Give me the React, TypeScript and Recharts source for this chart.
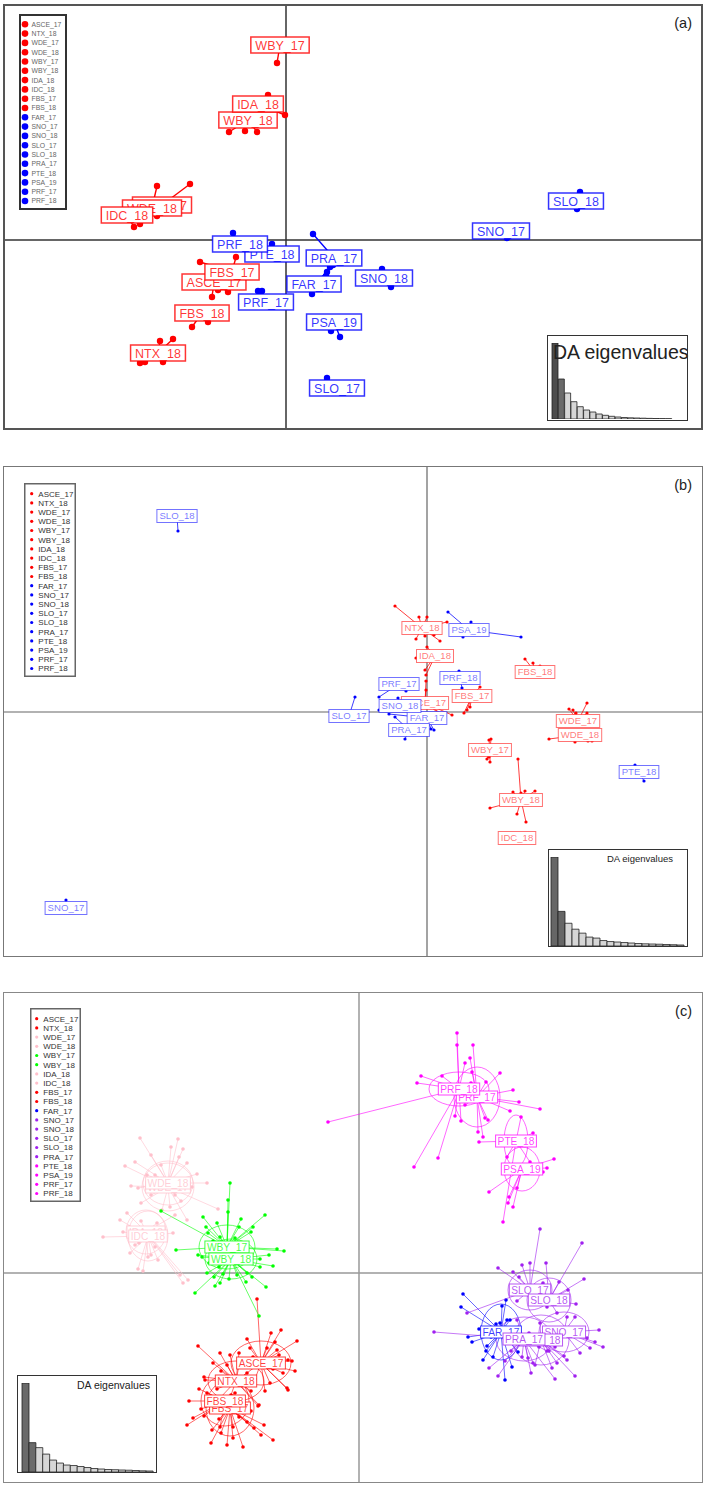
import React, { useLayoutEffect, useRef, useState } from 'react'
import { ScatterChart, Scatter, XAxis, YAxis, ReferenceLine, BarChart, Bar, Cell } from 'recharts'

const FONT = '"Liberation Sans", Arial, sans-serif'

const GROUPS = ['ASCE_17', 'NTX_18', 'WDE_17', 'WDE_18', 'WBY_17', 'WBY_18', 'IDA_18', 'IDC_18', 'FBS_17', 'FBS_18',
  'FAR_17', 'SNO_17', 'SNO_18', 'SLO_17', 'SLO_18', 'PRA_17', 'PTE_18', 'PSA_19', 'PRF_17', 'PRF_18']

const RED = '#ff0000', BLUE = '#0000ff', PINK = '#ffc0cb', GREEN = '#00ff00', PURPLE = '#a020f0', MAGENTA = '#ff00ff'

const COLORS_AB = [RED, RED, RED, RED, RED, RED, RED, RED, RED, RED, BLUE, BLUE, BLUE, BLUE, BLUE, BLUE, BLUE, BLUE, BLUE, BLUE]
const COLORS_C = [RED, RED, PINK, PINK, GREEN, GREEN, PINK, PINK, RED, RED, BLUE, PURPLE, PURPLE, PURPLE, PURPLE, PURPLE, MAGENTA, MAGENTA, MAGENTA, MAGENTA]

// ---- panel (a): group centroids (label position) and individual coordinates, LD1 / LD2
const A_CENTROIDS = [
  [-3.6, -2.1], [-6.4, -5.65], [-6.2, 1.75], [-6.7, 1.6], [-0.3, 9.75], [-1.9, 6.0], [-1.4, 6.8], [-7.95, 1.25], [-2.7, -1.6], [-4.2, -3.65],
  [1.4, -2.2], [10.75, 0.45], [4.9, -1.9], [2.55, -7.4], [14.5, 1.95], [2.4, -0.9], [-0.7, -0.7], [2.4, -4.1], [-1.0, -3.1], [-2.3, -0.2],
]
const A_POINTS = [
  [[-3.7, -2.85], [-2.9, -2.6], [-3.4, -2.5]],
  [[-6.3, -5.05], [-5.65, -4.95], [-7.3, -6.15], [-7.05, -6.1], [-6.15, -6.1]],
  [[-4.8, 2.8], [-5.4, 1.9]],
  [[-6.45, 2.7], [-6.45, 1.2]],
  [[-0.45, 8.85]],
  [[-2.85, 5.4], [-2.05, 5.45], [-1.45, 5.4]],
  [[-0.9, 7.25], [-0.05, 6.25]],
  [[-7.6, 0.65], [-7.3, 0.8]],
  [[-4.3, -1.1], [-2.5, -0.85]],
  [[-4.7, -4.35], [-4.05, -3.6], [-3.9, -4.1]],
  [[2.05, -1.6], [1.3, -2.7], [2.0, -1.8]],
  [[11.05, 0.1]],
  [[5.25, -2.35], [4.8, -1.45]],
  [[2.05, -6.9]],
  [[14.7, 2.4], [14.55, 1.55]],
  [[1.35, 0.3], [2.2, -1.35], [2.35, -1.25]],
  [[-0.7, -0.2]],
  [[2.7, -4.85], [2.25, -4.55]],
  [[-1.4, -2.55], [-1.2, -2.55]],
  [[-2.65, 0.35]],
]
const A_EIGEN = [76, 40, 26, 17.3, 12.3, 9, 7, 5, 3.7, 2.7, 2, 1.5, 1.2, 1, 0.8, 0.6, 0.5, 0.4, 0.3]

// ---- panel (b)
const B_CENTROIDS = [
  [-0.1, 0.45], [-0.25, 4.2], [7.55, -0.45], [7.65, -1.15], [3.15, -1.9], [4.7, -4.4], [0.4, 2.8], [4.5, -6.3], [2.25, 0.8], [5.4, 2.0],
  [0, -0.3], [-18.05, -9.8], [-1.35, 0.3], [-3.9, -0.2], [-12.5, 9.8], [-0.9, -0.9], [10.6, -3.0], [2.1, 4.1], [-1.4, 1.4], [1.65, 1.7],
]
const B_POINTS = [
  [[1.25, -0.15], [0.65, -0.1], [-0.05, 1.1], [-0.05, 1.55], [0, 0.6], [0.9, -0.2]],
  [[-1.6, 5.3], [-0.4, 4.75], [0, 4.75], [-0.55, 3.65], [0.65, 3.55], [-0.1, 3.8], [0.35, 3.85], [1.0, 4.5]],
  [[7.1, 0.15], [7.45, -0.05], [8.0, -0.05], [8.0, 0.45], [7.3, 0.1]],
  [[6.1, -1.35], [8.05, -1.45], [8.25, -1.45], [7.4, -1.5]],
  [[3.1, -1.4], [3.2, -1.35], [3.1, -2.25], [3.15, -2.5], [3.0, -2.35]],
  [[4.55, -2.35], [4.3, -4.0], [5.4, -3.95], [3.15, -4.8], [4.5, -5.1], [4.95, -5.5], [4.7, -4.05], [4.9, -3.95]],
  [[0, 3.25], [-0.55, 2.7], [-0.1, 2.1], [0.25, 2.85], [-0.05, 1.85]],
  [[4.5, -6.3]],
  [[2.65, 1.25], [1.85, -0.05], [2.0, 0.1], [2.15, 0.25]],
  [[4.9, 2.65], [5.3, 2.45], [5.65, 2.3]],
  [[-1.9, -0.1], [0.2, -0.85], [0.35, -0.9]],
  [[-18.05, -9.4]],
  [[-1.45, 0.7], [-2.4, 0.1]],
  [[-3.6, 0.75]],
  [[-12.45, 9.05]],
  [[-1.6, -0.25], [-1.1, -1.35]],
  [[10.85, -3.45], [10.4, -2.65]],
  [[1.05, 5.0], [2.2, 4.5], [1.8, 3.75], [4.7, 3.75]],
  [[-2.4, 0.75], [-1.05, 1.05]],
  [[1.6, 2.05], [1.75, 1.2]],
]
const B_EIGEN = [90, 35, 23, 17, 13, 9, 8, 5.5, 4.5, 4, 3.5, 3, 2.5, 2.2, 2, 1.8, 1.5, 1.3, 1]

// ---- panel (c)
const C_CENTROIDS = [
  [-4.9, -4.5], [-6.15, -5.4], [-9.55, 4.3], [-9.55, 4.5], [-6.6, 1.3], [-6.4, 0.7], [-10.65, 2.05], [-10.55, 1.85], [-6.45, -6.75], [-6.7, -6.4],
  [7.1, -2.95], [10.25, -2.95], [9.1, -3.35], [8.55, -0.85], [9.5, -1.35], [8.25, -3.3], [7.85, 6.6], [8.15, 5.2], [5.9, 8.8], [5.0, 9.2],
]
const C_ELLIPSES = [
  [1.5, 1.1], [1.4, 1.0], [1.3, 1.2], [1.25, 1.1], [1.4, 1.1], [1.3, 1.0], [1.0, 1.1], [1.0, 1.25], [1.2, 1.4], [1.2, 1.25],
  [1.0, 1.4], [1.25, 1.0], [1.4, 1.25], [1.1, 1.0], [1.1, 1.1], [1.4, 1.1], [0.6, 1.3], [0.9, 1.1], [1.15, 1.5], [1.5, 0.85],
]
const C_POINTS = [
  [[-5.1, -1.3], [-3.9, -2.85], [-3.1, -3.4], [-4.2, -3.45], [-3.55, -4.35], [-3.35, -4.4], [-4.6, -3.75], [-4.1, -3.85], [-5.45, -3.75], [-3.6, -5.75], [-3.55, -5.85], [-4.45, -5.5], [-4.0, -4.1], [-5.3, -4.2],
    [-5.6, -3.3], [-4.4, -3.0], [-3.8, -5.0], [-5.2, -5.3], [-4.7, -5.9], [-3.2, -4.9], [-5.8, -4.6], [-4.3, -4.8]],
  [[-8.05, -3.65], [-7.75, -5.2], [-6.95, -4.0], [-6.45, -4.1], [-5.95, -4.35], [-7.7, -5.35], [-5.05, -6.65], [-5.0, -6.6], [-6.6, -4.6], [-5.6, -5.0], [-7.1, -5.8],
    [-6.9, -4.9], [-5.4, -5.9], [-6.4, -6.1], [-7.3, -4.5], [-5.2, -4.7], [-6.0, -4.0], [-7.0, -6.3]],
  [[-11.7, 5.35], [-11.4, 4.35], [-10.9, 3.5], [-9.45, 3.3], [-9.85, 3.15], [-7.05, 3.2], [-8.6, 2.65], [-10.2, 4.9], [-10.4, 3.9], [-8.9, 3.6], [-9.9, 4.1]],
  [[-10.95, 6.75], [-9.05, 6.7], [-8.8, 6.2], [-9.4, 6.3], [-8.6, 5.5], [-8.1, 4.95], [-7.6, 4.5], [-8.35, 4.3], [-11.2, 5.55], [-11.05, 4.25], [-9.9, 5.4],
    [-10.4, 5.9], [-9.0, 5.8], [-10.6, 4.9], [-9.2, 3.9]],
  [[-6.45, 4.5], [-6.55, 3.65], [-6.55, 3.05], [-4.7, 2.9], [-9.9, 3.1], [-7.8, 2.8], [-5.9, 2.7], [-5.3, 2.3], [-5.4, 2.05], [-7.65, 2.3], [-7.55, 2.0], [-6.95, 1.8], [-6.2, 1.75], [-9.15, 1.15], [-3.75, 1.1], [-4.1, 1.2],
    [-7.1, 2.5], [-6.0, 2.3], [-7.3, 1.6], [-5.8, 1.4]],
  [[-8.05, 0.9], [-7.85, 0.8], [-4.5, 0.9], [-4.95, 0.7], [-4.3, 0.35], [-4.95, 0.3], [-7.6, 0.0], [-7.25, -0.2], [-6.8, -0.05], [-6.1, -0.1], [-5.6, 0.0], [-5.35, -0.2], [-7.2, -0.65], [-6.95, -0.5], [-8.2, -1.0], [-4.65, -0.7], [-5.65, -0.45], [-5.0, -2.15],
    [-7.0, 0.3], [-5.9, 0.5], [-6.5, -0.3], [-7.5, 0.5]],
  [[-8.8, -0.5], [-8.55, -0.35], [-8.95, -0.1], [-10.55, 0.8], [-9.2, 2.9], [-11.6, 3.0], [-10.1, 2.5], [-11.0, 1.5], [-9.7, 1.7]],
  [[-12.8, 1.8], [-11.95, 2.65], [-11.8, 2.05], [-9.3, 2.0], [-11.05, 0.2], [-10.8, 0.1], [-10.05, 0.65], [-11.45, 1.0], [-11.2, 1.4], [-10.2, 1.3], [-10.9, 2.6], [-11.5, 2.3], [-10.4, 0.9]],
  [[-7.35, -7.85], [-7.4, -8.5], [-6.3, -8.25], [-4.3, -8.35], [-4.75, -7.6], [-5.25, -7.75], [-6.3, -7.7], [-5.6, -7.45], [-6.9, -8.0],
    [-5.8, -8.7], [-6.0, -7.2], [-7.0, -7.3], [-5.4, -6.9], [-6.6, -8.6], [-4.9, -8.1]],
  [[-8.5, -6.4], [-7.75, -7.15], [-8.3, -7.25], [-7.3, -6.95], [-6.95, -7.7], [-7.6, -6.0], [-8.0, -5.8], [-7.2, -6.6], [-6.2, -6.0], [-7.9, -6.8], [-8.6, -7.6]],
  [[5.2, -1.05], [5.1, -1.7], [7.35, -1.35], [7.15, -1.65], [7.05, -2.5], [6.85, -2.55], [7.4, -2.35], [5.45, -3.2], [5.65, -3.45], [6.35, -3.9], [6.4, -3.65], [6.7, -4.2], [6.2, -4.35], [7.65, -4.7], [7.3, -5.35], [7.55, -2.35], [7.95, -3.95],
    [6.0, -2.8], [6.6, -3.2]],
  [[12.0, -2.85], [12.2, -3.7], [11.8, -3.45], [11.4, -3.25], [11.55, -3.75], [10.8, -2.2], [10.4, -2.2], [11.05, -4.0], [10.9, -3.1], [9.8, -3.7]],
  [[10.8, -5.15], [9.65, -4.75], [10.25, -4.15], [10.4, -4.35], [9.7, -2.85], [9.05, -2.5], [8.8, -4.6], [9.5, -3.9], [8.5, -3.0], [9.9, -4.5]],
  [[9.05, 2.2], [6.95, 0.25], [7.7, 0.05], [8.55, 0.5], [8.15, 0.4], [5.4, -2.0], [8.9, -1.25], [8.0, -0.2], [9.2, -0.5], [7.9, -1.4]],
  [[11.15, 1.5], [9.35, 0.5], [10.0, -0.45], [10.45, -0.85], [11.25, -0.3], [9.4, -1.7], [10.85, -1.55], [9.9, -2.0], [9.0, -0.9], [10.2, -1.2]],
  [[3.75, -2.95], [8.7, -4.5], [8.45, -4.25], [8.15, -4.2], [6.95, -5.15], [6.5, -4.75], [7.9, -2.35], [9.4, -3.9], [7.6, -3.9], [9.0, -3.7], [7.3, -4.4], [8.6, -5.0], [9.8, -5.3]],
  [[6.0, 6.55], [8.7, 7.0], [7.4, 5.8], [8.55, 5.55], [7.2, 2.55], [8.1, 7.8]],
  [[9.75, 5.7], [9.4, 5.25], [6.5, 4.05], [7.5, 3.8], [7.9, 4.25], [7.7, 3.3], [7.45, 3.5], [9.2, 5.05]],
  [[5.7, 11.4], [5.55, 10.75], [5.65, 10.05], [7.05, 10.0], [6.35, 9.55], [7.7, 9.15], [8.0, 8.55], [5.95, 7.05], [6.2, 6.8], [6.3, 7.75], [6.45, 7.65], [9.05, 8.2], [7.55, 8.1], [6.6, 8.9], [5.3, 8.4]],
  [[4.9, 12.0], [4.9, 11.4], [3.1, 9.85], [2.9, 9.5], [4.15, 9.85], [-1.55, 7.55], [4.8, 7.85], [5.1, 7.6], [3.95, 5.75], [2.75, 5.3], [5.3, 10.5], [4.2, 9.0], [5.6, 9.5]],
]
const C_EIGEN = [89.5, 29.5, 24.5, 18, 12, 9, 7, 6.5, 5.5, 4.5, 3.5, 3, 2.5, 2.3, 2, 1.8, 1.5, 1.2, 1]

// ---- look of the three panels
const PANELS = [
  {
    tag: '(a)', box: [3, 4, 700, 426], xDomain: [-14.15, 20.85], yDomain: [-9.5, 11.8],
    centroids: A_CENTROIDS, points: A_POINTS, colors: COLORS_AB, ellipses: null,
    st: { r: 3.2, lineW: 1.4, lineOp: 1, fs: 12.5, pad: 4.5, h: 16, boxW: 1.5, labOp: 0.8, axis: '#333', axisW: 1.5, border: '#555', borderW: 2 },
    legend: { x: 19, y: 14, w: 48, h: 196, dotX: 6, textX: 12.5, y0: 10.3, dy: 9.3, r: 3.3, fs: 6.8, color: '#666', stroke: '#333', sw: 2, colors: COLORS_AB },
    eigen: { x: 547, y: 335, w: 141, h: 86, values: A_EIGEN, margin: { top: 8, right: 16, bottom: 2, left: 5 }, dark: ['#4d4d4d', '#6a6a6a'], title: { left: 6, top: 7.5, fs: 19.5 } },
  },
  {
    tag: '(b)', box: [3, 466, 700, 491], xDomain: [-21.2, 13.8], yDomain: [-12.25, 12.3],
    centroids: B_CENTROIDS, points: B_POINTS, colors: COLORS_AB, ellipses: null,
    st: { r: 1.6, lineW: 0.9, lineOp: 0.85, fs: 9.6, pad: 2.5, h: 13, boxW: 1, labOp: 0.55, axis: '#666', axisW: 1.2, border: '#777', borderW: 1.5 },
    legend: { x: 24, y: 483, w: 52, h: 194, dotX: 7.7, textX: 14.3, y0: 10.7, dy: 9.2, r: 1.6, fs: 8, color: '#333', stroke: '#666', sw: 1.5, colors: COLORS_AB },
    eigen: { x: 548, y: 849, w: 140, h: 98, values: B_EIGEN, margin: { top: 8, right: 4, bottom: 1, left: 3 }, dark: ['#666', '#666'], title: { left: 59, top: 5, fs: 9.5 } },
  },
  {
    tag: '(c)', box: [3, 992, 700, 491], xDomain: [-17.8, 17.2], yDomain: [-10.5, 14.05],
    centroids: C_CENTROIDS, points: C_POINTS, colors: COLORS_C, ellipses: C_ELLIPSES,
    st: { r: 1.8, lineW: 0.8, lineOp: 0.75, fs: 10.2, pad: 2, h: 12, boxW: 1, labOp: 0.75, axis: '#999', axisW: 1.5, border: '#888', borderW: 1.5 },
    legend: { x: 30, y: 1008, w: 51, h: 194, dotX: 6.7, textX: 13.3, y0: 10.7, dy: 9.2, r: 1.6, fs: 8, color: '#333', stroke: '#666', sw: 1.5, colors: COLORS_C },
    eigen: { x: 17, y: 1375, w: 140, h: 98, values: C_EIGEN, margin: { top: 8, right: 4, bottom: 1, left: 5 }, dark: ['#6a6a6a', '#6a6a6a'], title: { left: 60, top: 5, fs: 10.5 } },
  },
]

function LabelBox({ cx, cy, text, color, st }: any) {
  const ref = useRef<SVGTextElement>(null)
  const [w, setW] = useState(text.length * st.fs * 0.62)
  useLayoutEffect(() => {
    if (ref.current) setW(ref.current.getComputedTextLength())
  }, [text, st.fs])
  return (
    <g>
      <rect x={cx - w / 2 - st.pad} y={cy - st.h / 2} width={w + 2 * st.pad} height={st.h}
        fill="#fff" stroke={color} strokeOpacity={st.labOp} strokeWidth={st.boxW} />
      <text ref={ref} x={cx} y={cy + st.fs * 0.36} textAnchor="middle" fontSize={st.fs} fontFamily={FONT}
        fill={color} fillOpacity={st.labOp}>{text}</text>
    </g>
  )
}

const hidden = () => <g />

const dotShape = (color: string, r: number) => (p: any) =>
  (p.payload?.c || p.c) ? <g /> : <circle cx={p.cx} cy={p.cy} r={r} fill={color} />

// star: every point linked to the first one (the group centroid)
const spokes = (color: string, st: any) => (lp: any) => {
  const pts = lp.points || []
  if (!pts.length) return <g />
  const c = pts[0]
  return (
    <g>
      {pts.slice(1).map((p: any, i: number) => (
        <line key={i} x1={c.x} y1={c.y} x2={p.x} y2={p.y} stroke={color} strokeOpacity={st.lineOp} strokeWidth={st.lineW} />
      ))}
    </g>
  )
}

// ellipse from [centre, end of x semi-axis, end of y semi-axis]
const ellipseLine = (color: string) => (lp: any) => {
  const pts = lp.points || []
  if (pts.length < 3) return <g />
  return (
    <ellipse cx={pts[0].x} cy={pts[0].y} rx={Math.abs(pts[1].x - pts[0].x)} ry={Math.abs(pts[2].y - pts[0].y)}
      fill="none" stroke={color} strokeOpacity={0.75} strokeWidth={0.8} />
  )
}

function Panel({ cfg }: any) {
  const { box, xDomain, yDomain, centroids, points, colors, ellipses, st } = cfg
  const labels = GROUPS.map((g, i) => ({ x: centroids[i][0], y: centroids[i][1], lab: g, col: colors[i] }))
  return (
    <div style={{ position: 'absolute', left: box[0], top: box[1] }}>
      <ScatterChart width={box[2]} height={box[3]} margin={{ top: 0, right: 0, bottom: 0, left: 0 }}>
        <XAxis type="number" dataKey="x" domain={xDomain} hide allowDataOverflow />
        <YAxis type="number" dataKey="y" domain={yDomain} hide allowDataOverflow />
        <ReferenceLine x={0} stroke={st.axis} strokeWidth={st.axisW} />
        <ReferenceLine y={0} stroke={st.axis} strokeWidth={st.axisW} />
        {ellipses && GROUPS.map((g, i) => {
          const c = centroids[i], e = ellipses[i]
          return (
            <Scatter key={'e' + g} data={[{ x: c[0], y: c[1] }, { x: c[0] + e[0], y: c[1] }, { x: c[0], y: c[1] + e[1] }]}
              line={ellipseLine(colors[i])} shape={hidden} isAnimationActive={false} />
          )
        })}
        {GROUPS.map((g, i) => (
          <Scatter key={g} name={g}
            data={[{ x: centroids[i][0], y: centroids[i][1], c: true }, ...points[i].map((p: number[]) => ({ x: p[0], y: p[1] }))]}
            line={spokes(colors[i], st)} shape={dotShape(colors[i], st.r)} isAnimationActive={false} />
        ))}
        <Scatter data={labels} isAnimationActive={false}
          shape={(p: any) => <LabelBox cx={p.cx} cy={p.cy} text={p.payload?.lab ?? p.lab} color={p.payload?.col ?? p.col} st={st} />} />
      </ScatterChart>
    </div>
  )
}

function Legend({ lg }: any) {
  return (
    <svg style={{ position: 'absolute', left: lg.x, top: lg.y }} width={lg.w} height={lg.h}>
      <rect x={lg.sw / 2} y={lg.sw / 2} width={lg.w - lg.sw} height={lg.h - lg.sw} fill="#fff" stroke={lg.stroke} strokeWidth={lg.sw} />
      {GROUPS.map((g, i) => (
        <g key={g}>
          <circle cx={lg.dotX} cy={lg.y0 + i * lg.dy} r={lg.r} fill={lg.colors[i]} />
          <text x={lg.textX} y={lg.y0 + i * lg.dy + lg.fs * 0.36} fontSize={lg.fs} fontFamily={FONT} fill={lg.color}>{g}</text>
        </g>
      ))}
    </svg>
  )
}

function EigenInset({ eg }: any) {
  const data = eg.values.map((v: number, i: number) => ({ k: i + 1, v }))
  return (
    <div style={{ position: 'absolute', left: eg.x, top: eg.y, width: eg.w, height: eg.h, background: '#fff' }}>
      <BarChart width={eg.w} height={eg.h} data={data} margin={eg.margin} barCategoryGap={0} barGap={0}>
        <XAxis dataKey="k" hide />
        <YAxis hide domain={[0, eg.values[0]]} allowDataOverflow />
        <Bar dataKey="v" stroke="#222" strokeWidth={0.8} isAnimationActive={false}>
          {data.map((d: any, i: number) => <Cell key={d.k} fill={i < 2 ? eg.dark[i] : '#d6d6d6'} />)}
        </Bar>
      </BarChart>
      <div style={{ position: 'absolute', left: eg.title.left, top: eg.title.top, fontSize: eg.title.fs, lineHeight: 1, fontFamily: FONT, color: '#222', whiteSpace: 'nowrap' }}>
        DA eigenvalues
      </div>
      <div style={{ position: 'absolute', inset: 0, border: '1.3px solid #333', boxSizing: 'border-box' }} />
    </div>
  )
}

export default function App() {
  return (
    <div style={{ position: 'absolute', left: 0, top: 0, width: 709, height: 1488, background: '#fff', fontFamily: FONT, overflow: 'hidden' }}>
      {PANELS.map(p => <Panel key={p.tag} cfg={p} />)}
      {PANELS.map(p => (
        <React.Fragment key={'o' + p.tag}>
          <div style={{ position: 'absolute', left: p.box[0], top: p.box[1], width: p.box[2], height: p.box[3], border: `${p.st.borderW}px solid ${p.st.border}`, boxSizing: 'border-box', pointerEvents: 'none' }} />
          <div style={{ position: 'absolute', left: p.box[0] + p.box[2] - 60, top: p.box[1] + 12, width: 49, textAlign: 'right', fontSize: 14.5, lineHeight: 1, fontFamily: FONT, color: '#222' }}>{p.tag}</div>
          <Legend lg={p.legend} />
          <EigenInset eg={p.eigen} />
        </React.Fragment>
      ))}
    </div>
  )
}
